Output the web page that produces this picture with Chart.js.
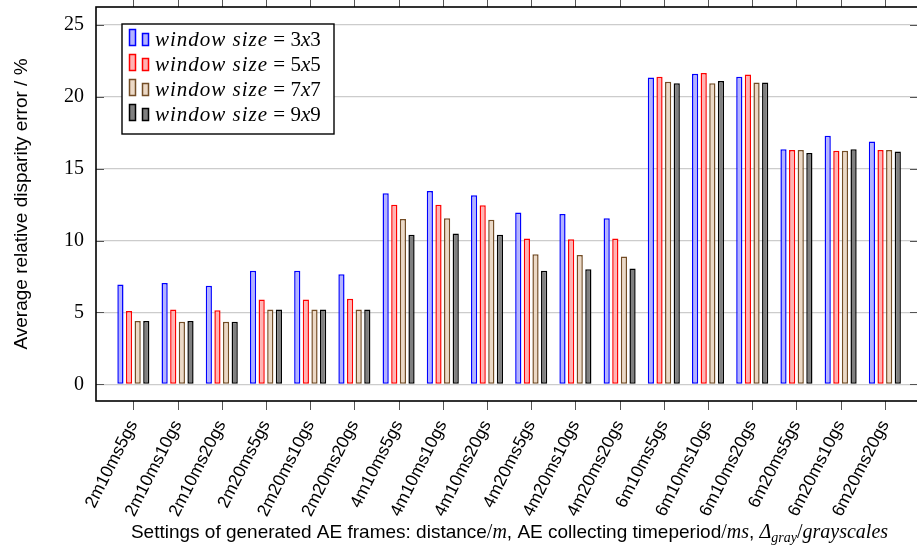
<!DOCTYPE html>
<html>
<head>
<meta charset="utf-8">
<script src="https://cdn.jsdelivr.net/npm/chart.js@4.4.0/dist/chart.umd.min.js"></script>
<style>
  html, body { margin: 0; padding: 0; overflow: hidden; background: #fff; }
  canvas { display: block; }
</style>
</head>
<body>
<canvas id="errorChart" width="919" height="552"></canvas>
<script>
// Categorías del eje x
const categories = ['2m10ms5gs', '2m10ms10gs', '2m10ms20gs', '2m20ms5gs', '2m20ms10gs', '2m20ms20gs',
    '4m10ms5gs', '4m10ms10gs', '4m10ms20gs', '4m20ms5gs', '4m20ms10gs', '4m20ms20gs',
    '6m10ms5gs', '6m10ms10gs', '6m10ms20gs', '6m20ms5gs', '6m20ms10gs', '6m20ms20gs'];

// Tamaños de ventana (series)
const windowSizes = ['3x3', '5x5', '7x7', '9x9'];

// Error relativo medio / %
const win3x3 = [6.95, 7.05, 6.85, 7.9, 7.9, 7.65, 13.3, 13.45, 13.15, 11.95, 11.85, 11.55, 21.35, 21.6, 21.4, 16.35, 17.3, 16.9];
const win5x5 = [5.1, 5.2, 5.15, 5.9, 5.9, 5.95, 12.5, 12.5, 12.45, 10.15, 10.1, 10.15, 21.4, 21.65, 21.55, 16.3, 16.25, 16.3];
const win7x7 = [4.4, 4.35, 4.35, 5.2, 5.2, 5.2, 11.5, 11.55, 11.45, 9.05, 9.0, 8.9, 21.05, 20.95, 21.0, 16.3, 16.25, 16.3];
const win9x9 = [4.4, 4.4, 4.35, 5.2, 5.2, 5.2, 10.4, 10.5, 10.4, 7.9, 8.0, 8.05, 20.95, 21.1, 21.0, 16.1, 16.35, 16.2];

// Marcas del eje y
const yTicks = [0, 5, 10, 15, 20, 25];

const SANS = '"Liberation Sans", Arial, sans-serif';
const SERIF = '"Liberation Serif", "Times New Roman", serif';

const bordes = ['#0000ff', '#ff0000', '#734d26', '#000000'];
const rellenos = ['#b3b3ff', '#ffb3b3', '#ecd9c6', '#808080'];

function serie(valores) {
    return valores.map(function(v, i) { return { x: i, y: v }; });
}

function sinPadding(scale) {
    scale.paddingTop = 0;
    scale.paddingBottom = 0;
    scale.paddingLeft = 0;
    scale.paddingRight = 0;
}

// Marco y marcas de los ejes (estilo pgfplots)
const marcoPlugin = {
    id: 'marco',
    afterDatasetsDraw(chart) {
        const { ctx, chartArea: a, scales } = chart;
        ctx.save();
        ctx.strokeStyle = '#555';
        ctx.lineWidth = 1;
        yTicks.forEach(function(v) {
            const py = Math.round(scales.y.getPixelForValue(v)) + 0.5;
            ctx.beginPath();
            ctx.moveTo(a.left, py); ctx.lineTo(a.left + 8, py);
            ctx.moveTo(a.right, py); ctx.lineTo(a.right - 8, py);
            ctx.stroke();
        });
        categories.forEach(function(_, i) {
            const px = Math.round(scales.x.getPixelForValue(i)) + 0.5;
            ctx.beginPath();
            ctx.moveTo(px, a.bottom); ctx.lineTo(px, a.bottom + 9);
            ctx.moveTo(px, a.top); ctx.lineTo(px, a.top - 9);
            ctx.stroke();
        });
        ctx.strokeStyle = '#000';
        ctx.lineWidth = 1.6;
        ctx.strokeRect(a.left, a.top, a.right - a.left, a.bottom - a.top);
        ctx.restore();
    }
};

// Leyenda dentro del área del gráfico
const leyendaPlugin = {
    id: 'leyenda',
    afterDraw(chart) {
        const ctx = chart.ctx;
        const a = chart.chartArea;
        const x0 = a.left + 26, y0 = a.top + 17, w = 212, h = 110;
        ctx.save();
        ctx.fillStyle = '#fff';
        ctx.fillRect(x0, y0, w, h);
        ctx.strokeStyle = '#000';
        ctx.lineWidth = 1.4;
        ctx.strokeRect(x0, y0, w, h);
        chart.data.datasets.forEach(function(ds, i) {
            const base = y0 + 22 + i * 25;
            ctx.fillStyle = ds.backgroundColor;
            ctx.strokeStyle = ds.borderColor;
            ctx.lineWidth = 1.5;
            ctx.fillRect(x0 + 7.5, base - 16.5, 6, 16);
            ctx.strokeRect(x0 + 7.5, base - 16.5, 6, 16);
            ctx.fillRect(x0 + 20.5, base - 12.5, 6, 12);
            ctx.strokeRect(x0 + 20.5, base - 12.5, 6, 12);
            let x = x0 + 33;
            ctx.fillStyle = '#000';
            ctx.textBaseline = 'alphabetic';
            const partes = [
                ['italic', 'window size', '1px'],
                ['normal', ' = ' + windowSizes[i].charAt(0), '0px'],
                ['italic', 'x', '0px'],
                ['normal', windowSizes[i].charAt(2), '0px']
            ];
            partes.forEach(function(p) {
                ctx.font = p[0] + ' 21px ' + SERIF;
                ctx.letterSpacing = p[2];
                ctx.fillText(p[1], x, base);
                x += ctx.measureText(p[1]).width;
            });
        });
        ctx.restore();
    }
};

// Títulos de los ejes
const titulosPlugin = {
    id: 'titulos',
    afterDraw(chart) {
        const ctx = chart.ctx;
        const a = chart.chartArea;
        ctx.save();
        ctx.fillStyle = '#000';
        ctx.textBaseline = 'alphabetic';
        // eje y
        ctx.font = '19px ' + SANS;
        ctx.textAlign = 'center';
        ctx.translate(27, (a.top + a.bottom) / 2);
        ctx.rotate(-Math.PI / 2);
        ctx.fillText('Average relative disparity error / %', 0, 0);
        ctx.setTransform(1, 0, 0, 1, 0, 0);
        // eje x, texto mixto
        ctx.textAlign = 'left';
        const partes = [
            ['19px ' + SANS, 'Settings of generated AE frames: distance', 0],
            ['20px ' + SERIF, '/', 0],
            ['italic 20px ' + SERIF, 'm', 0],
            ['19px ' + SANS, ', AE collecting timeperiod', 0],
            ['20px ' + SERIF, '/', 0],
            ['italic 20px ' + SERIF, 'ms', 0],
            ['19px ' + SANS, ', ', 0],
            ['italic 20px ' + SERIF, 'Δ', 0],
            ['italic 14px ' + SERIF, 'gray', 4],
            ['20px ' + SERIF, '/', 0],
            ['italic 20px ' + SERIF, 'grayscales', 0]
        ];
        let total = 0;
        partes.forEach(function(p) { ctx.font = p[0]; total += ctx.measureText(p[1]).width; });
        let x = 509.5 - total / 2;
        const base = 538;
        partes.forEach(function(p) {
            ctx.font = p[0];
            ctx.fillText(p[1], x, base + p[2]);
            x += ctx.measureText(p[1]).width;
        });
        ctx.restore();
    }
};

const ctx = document.getElementById('errorChart').getContext('2d');
const errorChart = new Chart(ctx, {
    type: 'bar',
    data: {
        datasets: [win3x3, win5x5, win7x7, win9x9].map(function(valores, i) {
            return {
                label: 'window size = ' + windowSizes[i],
                data: serie(valores),
                backgroundColor: rellenos[i],
                borderColor: bordes[i],
                borderWidth: 1.5,
                borderSkipped: false,
                categoryPercentage: 0.78,
                barPercentage: 0.72
            };
        })
    },
    options: {
        responsive: false,
        animation: false,
        layout: { padding: { top: 7, right: 1, left: 0, bottom: 0 } },
        plugins: {
            legend: { display: false },
            tooltip: { enabled: false }
        },
        scales: {
            x: {
                type: 'linear',
                offset: false,
                min: -0.845,
                max: 17.75,
                grid: { display: false, drawTicks: false, offset: false },
                border: { display: false },
                afterBuildTicks: function(scale) {
                    scale.ticks = categories.map(function(_, i) { return { value: i }; });
                },
                afterFit: function(scale) { scale.height = 151; sinPadding(scale); },
                ticks: {
                    autoSkip: false,
                    minRotation: 63,
                    maxRotation: 63,
                    padding: 16,
                    color: '#000',
                    font: { family: SANS, size: 17.5 },
                    callback: function(value) { return categories[value]; }
                }
            },
            y: {
                min: -1.16,
                max: 26.25,
                grid: { color: '#cccccc', lineWidth: 1.2, drawTicks: false },
                border: { display: false },
                afterBuildTicks: function(scale) {
                    scale.ticks = yTicks.map(function(v) { return { value: v }; });
                },
                afterFit: function(scale) { scale.width = 96; sinPadding(scale); },
                ticks: {
                    padding: 12,
                    color: '#000',
                    font: { family: SERIF, size: 20 }
                }
            }
        }
    },
    plugins: [marcoPlugin, leyendaPlugin, titulosPlugin]
});
</script>
</body>
</html>
